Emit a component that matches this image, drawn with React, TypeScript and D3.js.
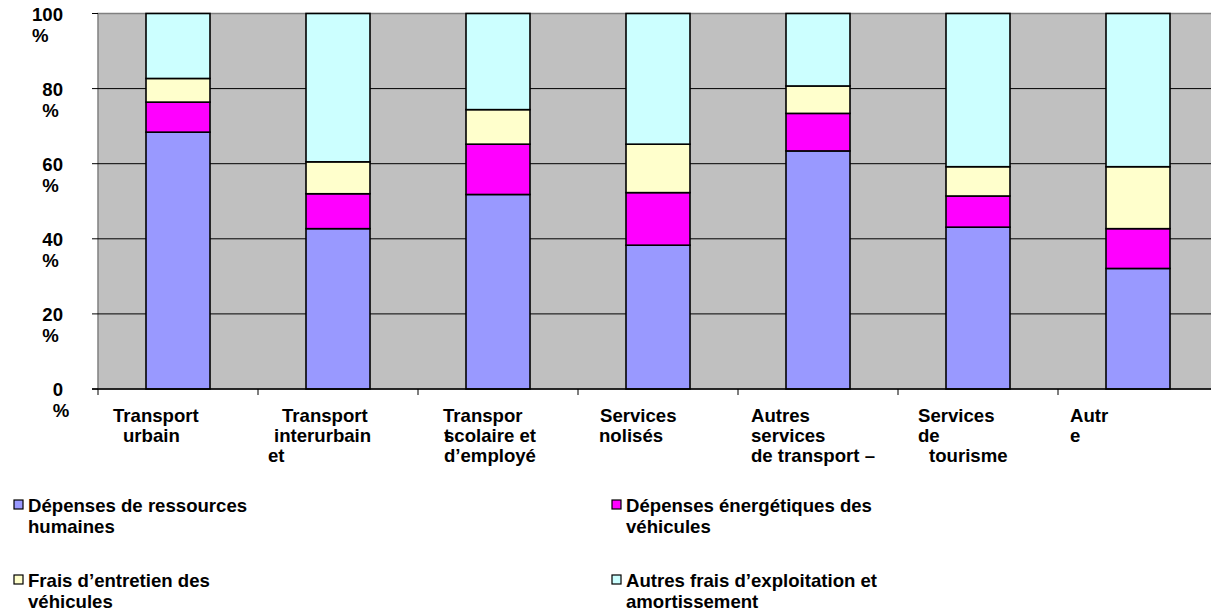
import {useEffect, useRef} from "react";
import * as d3 from "d3";

const categories = ["Transport urbain", "Transport interurbain", "Transport scolaire", "Services nolisés", "Autres services", "Services de tourisme", "Autre"];

// label lines as they wrap in the original picture
const labelLines = [
    ["Transport", "urbain"],
    ["Transport", "interurbain", "et"],
    ["Transpor", "scolaire et", "d’employé"],
    ["Services", "nolisés"],
    ["Autres", "services", "de transport –"],
    ["Services", "de", "tourisme"],
    ["Autr", "e"],
];
// x offset of each line from the band start
const labelOffsets = [
    [15, 25],
    [24, 16, 10],
    [25, 26, 26],
    [22, 21],
    [13, 13, 13],
    [20, 20, 31],
    [12, 12],
];

const seriesNames = ["Dépenses de ressources humaines", "Dépenses énergétiques des véhicules", "Frais d’entretien des véhicules", "Autres frais d’exploitation et amortissement"];
const legendLines = [["Dépenses de ressources", "humaines"], ["Dépenses énergétiques des", "véhicules"], ["Frais d’entretien des", "véhicules"], ["Autres frais d’exploitation et", "amortissement"]];
const colors = ["#9999FF", "#FF00FF", "#FFFFCC", "#CCFFFF"];

const humaines = [68.4, 42.7, 51.8, 38.3, 63.4, 43.1, 32.1];
const energie = [8.0, 9.3, 13.4, 14.0, 10.0, 8.3, 10.6];
const entretien = [6.3, 8.5, 9.2, 12.9, 7.3, 7.8, 16.5];
const autres = [17.3, 39.5, 25.6, 34.8, 19.3, 40.8, 40.8];

const yTicks = [0, 20, 40, 60, 80, 100];

const FONT = "'Liberation Sans', Arial, sans-serif";
const FS = 18.6;

export default function App() {
    const ref = useRef<SVGSVGElement>(null);

    useEffect(() => {
        const svg = d3.select(ref.current);
        svg.selectAll("*").remove();

        const left = 98, top = 13.5, bottom = 389, bandW = 160;
        const x = d3.scaleBand().domain(categories).range([left, left + bandW * categories.length]).paddingInner(0.6).paddingOuter(0.3);
        const y = d3.scaleLinear().domain([0, 100]).range([bottom, top]);
        const step = x.step();
        const bandStart = (i: number) => left + step * i;

        const rows = categories.map((c, i) => ({cat: c, s0: humaines[i], s1: energie[i], s2: entretien[i], s3: autres[i]}));
        const stacked = d3.stack<any>().keys(["s0", "s1", "s2", "s3"])(rows);

        // plot area
        svg.append("rect").attr("x", left).attr("y", top).attr("width", 1211 - left + 10).attr("height", bottom - top)
            .attr("fill", "#C0C0C0").attr("stroke", "#808080").attr("stroke-width", 1.5);

        // gridlines
        svg.append("g").selectAll("line").data(yTicks.filter(t => t > 0 && t < 100)).enter().append("line")
            .attr("x1", left).attr("x2", 1211).attr("y1", d => y(d)).attr("y2", d => y(d))
            .attr("stroke", "#000").attr("stroke-width", 1);

        // bars
        svg.append("g").selectAll("g").data(stacked).enter().append("g")
            .attr("fill", (_, i) => colors[i])
            .selectAll("rect").data(d => d).enter().append("rect")
            .attr("x", d => x(d.data.cat)!)
            .attr("width", x.bandwidth())
            .attr("y", d => y(d[1]))
            .attr("height", d => y(d[0]) - y(d[1]))
            .attr("stroke", "#000").attr("stroke-width", 1.6);

        // y axis ticks
        const ya = svg.append("g");
        ya.selectAll("line").data(yTicks).enter().append("line")
            .attr("x1", left - 6).attr("x2", left).attr("y1", d => y(d)).attr("y2", d => y(d))
            .attr("stroke", "#000").attr("stroke-width", 1);
        yTicks.forEach(t => {
            const num = ya.append("text").attr("x", 63).attr("y", y(t) + 7)
                .attr("text-anchor", "end").attr("font-family", FONT).attr("font-weight", "bold").attr("font-size", FS).text(String(t));
            const w = (num.node() as SVGTextElement).getComputedTextLength();
            ya.append("text").attr("x", 63 - w).attr("y", y(t) + 28)
                .attr("font-family", FONT).attr("font-weight", "bold").attr("font-size", FS).text("%");
        });

        // x axis
        const xa = svg.append("g");
        xa.append("line").attr("x1", left - 6).attr("x2", 1211).attr("y1", bottom).attr("y2", bottom).attr("stroke", "#000").attr("stroke-width", 1.5);
        xa.selectAll("line.tick").data(d3.range(categories.length + 1)).enter().append("line")
            .attr("x1", d => bandStart(d)).attr("x2", d => bandStart(d)).attr("y1", bottom).attr("y2", bottom + 6)
            .attr("stroke", "#000").attr("stroke-width", 1);

        labelLines.forEach((lines, i) => {
            lines.forEach((ln, j) => {
                xa.append("text").attr("x", bandStart(i) + labelOffsets[i][j]).attr("y", 421.7 + j * 20.3)
                    .attr("font-family", FONT).attr("font-weight", "bold").attr("font-size", FS).text(ln);
            });
        });
        // the stray wrapped "t" drawn over "scolaire"
        xa.append("text").attr("x", bandStart(2) + labelOffsets[2][1]).attr("y", 421.7 + 20.3)
            .attr("font-family", FONT).attr("font-weight", "bold").attr("font-size", FS).text("t");

        // legend
        const lg = svg.append("g");
        seriesNames.forEach((_, i) => {
            const col = i % 2, row = Math.floor(i / 2);
            const sx = col === 0 ? 14 : 612;
            const sy = row === 0 ? 500 : 575;
            lg.append("rect").attr("x", sx).attr("y", sy).attr("width", 9).attr("height", 9)
                .attr("fill", colors[i]).attr("stroke", "#000").attr("stroke-width", 1.2);
            legendLines[i].forEach((ln, j) => {
                lg.append("text").attr("x", sx + 14).attr("y", sy + 11.7 + j * 21)
                    .attr("font-family", FONT).attr("font-weight", "bold").attr("font-size", FS).text(ln);
            });
        });
    }, []);

    return <svg ref={ref} width={1211} height={613} style={{position: "absolute", left: 0, top: 0, background: "#fff"}}/>;
}
